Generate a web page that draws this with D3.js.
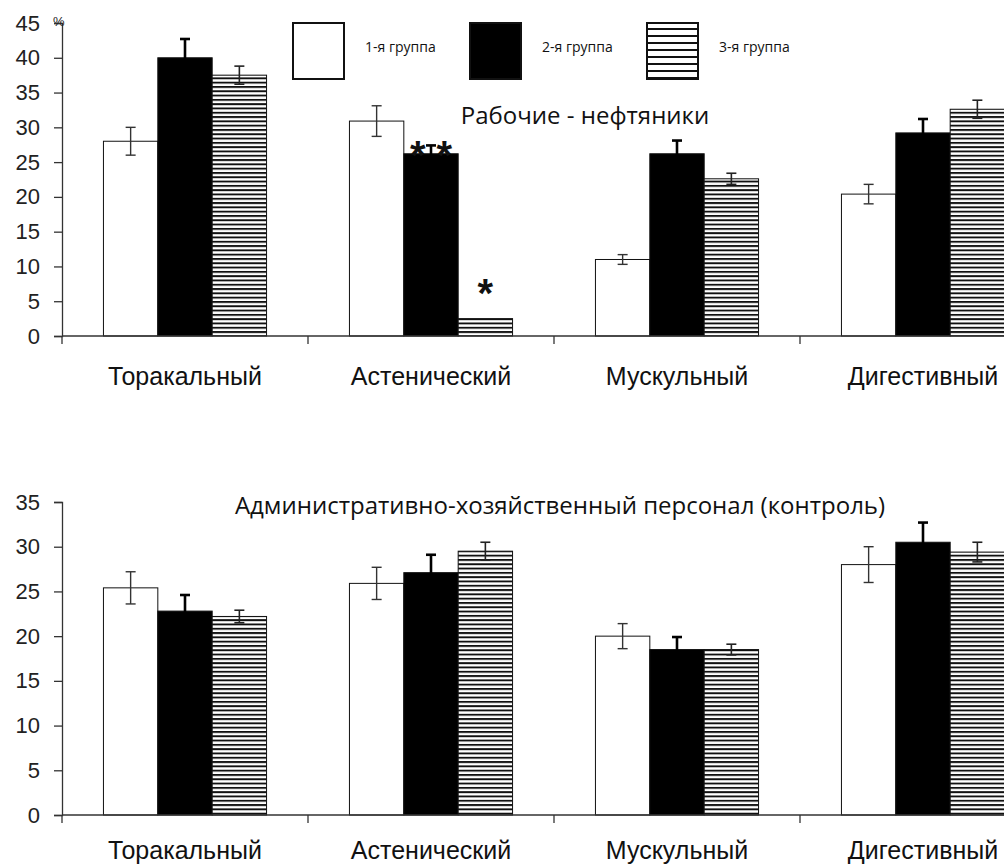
<!DOCTYPE html>
<html>
<head>
<meta charset="utf-8">
<script src="https://cdn.jsdelivr.net/npm/d3@7"></script>
<style>
  html, body { margin: 0; padding: 0; background: #fff; }
  svg { display: block; }
</style>
</head>
<body>
<svg id="chart" width="1004" height="866"></svg>
<script>
// ---------------- DATA ----------------
const categories = ["Торакальный", "Астенический", "Мускульный", "Дигестивный"];
const groups = ["1-я группа", "2-я группа", "3-я группа"];

// Panel 1: Рабочие - нефтяники
const workersTitle = "Рабочие - нефтяники";
const workersG1 = [28.0, 30.9, 11.0, 20.4];
const workersG2 = [40.0, 26.2, 26.2, 29.2];
const workersG3 = [37.5, 2.5, 22.6, 32.6];
const workersErr1 = [2.0, 2.2, 0.7, 1.4];
const workersErr2 = [2.7, 1.2, 1.9, 2.0];
const workersErr3 = [1.3, 0.0, 0.8, 1.3];
const workersTicks = [0, 5, 10, 15, 20, 25, 30, 35, 40, 45];

// significance marks (panel 1)
const starText = ["* *", "*"];
const starCategory = ["Астенический", "Астенический"];
const starGroup = ["2-я группа", "3-я группа"];
const starLevel = [27.5, 7.6];

// Panel 2: Административно-хозяйственный персонал (контроль)
const controlTitle = "Административно-хозяйственный персонал (контроль)";
const controlG1 = [25.4, 25.9, 20.0, 28.0];
const controlG2 = [22.8, 27.1, 18.5, 30.5];
const controlG3 = [22.2, 29.5, 18.5, 29.4];
const controlErr1 = [1.8, 1.8, 1.4, 2.0];
const controlErr2 = [1.8, 2.0, 1.4, 2.2];
const controlErr3 = [0.7, 1.0, 0.6, 1.1];
const controlTicks = [0, 5, 10, 15, 20, 25, 30, 35];

// ---------------- DRAW ----------------
const svg = d3.select("#chart");
const defs = svg.append("defs");

function hatch(id, period, thick) {
  const p = defs.append("pattern")
    .attr("id", id).attr("patternUnits", "userSpaceOnUse")
    .attr("width", 8).attr("height", period);
  p.append("rect").attr("width", 8).attr("height", period).attr("fill", "#fff");
  p.append("rect").attr("y", 0).attr("width", 8).attr("height", thick).attr("fill", "#111");
}
hatch("hatchBar", 4.3, 1.9);
hatch("hatchLegend", 7, 2);

const fills = ["#fff", "#000", "url(#hatchBar)"];
const legendFills = ["#fff", "#000", "url(#hatchLegend)"];
const errColor = ["#333", "#000", "#222"];
const errWidth = [1.4, 2.6, 1.6];

const x = d3.scaleBand().domain(categories).range([62, 1046])
  .paddingInner(0.337).paddingOuter(0.1685);
const xg = d3.scaleBand().domain(groups).range([0, x.bandwidth()]);

const tickFont = "'Liberation Sans', Arial, sans-serif";
const textFont = "'Open Sans', 'Noto Sans', sans-serif";

function panel(opts) {
  const { series, errs, ticks, yBottom, yTop, title, titleX, titleY, labelOffset } = opts;
  const y = d3.scaleLinear().domain([0, d3.max(ticks)]).range([yBottom, yTop]);
  const g = svg.append("g");

  // bars
  series.forEach((vals, gi) => {
    g.append("g").selectAll("rect").data(vals).join("rect")
      .attr("x", (d, i) => x(categories[i]) + xg(groups[gi]))
      .attr("y", d => y(d))
      .attr("width", xg.bandwidth())
      .attr("height", d => y(0) - y(d))
      .attr("fill", fills[gi])
      .attr("stroke", "#111")
      .attr("stroke-width", 1);
  });

  // error bars
  series.forEach((vals, gi) => {
    const eg = g.append("g").attr("stroke", errColor[gi]).attr("stroke-width", errWidth[gi]).attr("fill", "none");
    vals.forEach((v, i) => {
      const e = errs[gi][i];
      if (!e) return;
      const cx = x(categories[i]) + xg(groups[gi]) + xg.bandwidth() / 2;
      eg.append("line").attr("x1", cx).attr("x2", cx).attr("y1", y(v - e)).attr("y2", y(v + e));
      [v - e, v + e].forEach(t => {
        eg.append("line").attr("x1", cx - 5).attr("x2", cx + 5).attr("y1", y(t)).attr("y2", y(t));
      });
    });
  });

  // y axis
  const ya = g.append("g").attr("transform", "translate(62,0)")
    .call(d3.axisLeft(y).tickValues(ticks).tickSize(8).tickPadding(14));
  ya.select(".domain").attr("stroke", "#333").attr("stroke-width", 1.3);
  ya.selectAll(".tick line").attr("stroke", "#333").attr("stroke-width", 1.3);
  ya.selectAll("text").attr("font-family", tickFont).attr("font-size", 22).attr("fill", "#222");

  // x axis: category labels
  const xa = g.append("g").attr("transform", `translate(0,${y(0)})`)
    .call(d3.axisBottom(x).tickSize(0));
  xa.select(".domain").remove();
  xa.selectAll("text").attr("y", labelOffset).attr("dy", 0)
    .attr("font-family", tickFont).attr("font-size", 25).attr("fill", "#111");

  // x axis line and boundary ticks
  const r = x.range();
  g.append("line").attr("x1", r[0]).attr("x2", r[1]).attr("y1", y(0)).attr("y2", y(0))
    .attr("stroke", "#333").attr("stroke-width", 1.3);
  const bounds = d3.range(categories.length + 1).map(i => r[0] + i * x.step());
  g.append("g").selectAll("line").data(bounds).join("line")
    .attr("x1", d => d).attr("x2", d => d).attr("y1", y(0)).attr("y2", y(0) + 8)
    .attr("stroke", "#333").attr("stroke-width", 1.3);

  // title
  g.append("text").attr("x", titleX).attr("y", titleY).attr("text-anchor", "middle")
    .attr("font-family", textFont).attr("font-size", 24).attr("fill", "#111").text(title);

  return { g, y };
}

const p1 = panel({
  series: [workersG1, workersG2, workersG3],
  errs: [workersErr1, workersErr2, workersErr3],
  ticks: workersTicks, yBottom: 336, yTop: 23,
  title: workersTitle, titleX: 585, titleY: 124, labelOffset: 49
});

const p2 = panel({
  series: [controlG1, controlG2, controlG3],
  errs: [controlErr1, controlErr2, controlErr3],
  ticks: controlTicks, yBottom: 815, yTop: 502,
  title: controlTitle, titleX: 560, titleY: 514, labelOffset: 44
});

// percent sign
svg.append("text").attr("x", 53).attr("y", 26).attr("font-family", tickFont)
  .attr("font-size", 13).attr("fill", "#222").text("%");

// significance stars
starText.forEach((t, i) => {
  const cx = x(starCategory[i]) + xg(starGroup[i]) + xg.bandwidth() / 2;
  p1.g.append("text").attr("x", cx).attr("y", p1.y(starLevel[i]) + 24)
    .attr("text-anchor", "middle").attr("font-family", tickFont).attr("font-weight", "bold")
    .attr("font-size", 40).attr("fill", "#111").text(t);
});

// legend
const lx = d3.scaleLinear().domain([0, groups.length - 1]).range([293, 647]);
const leg = svg.append("g");
groups.forEach((name, i) => {
  leg.append("rect").attr("x", lx(i)).attr("y", 23).attr("width", 51).attr("height", 56)
    .attr("fill", legendFills[i]).attr("stroke", "#111").attr("stroke-width", 2);
  leg.append("text").attr("x", lx(i) + 72).attr("y", 52)
    .attr("font-family", textFont).attr("font-size", 14).attr("fill", "#111").text(name);
});
</script>
</body>
</html>
